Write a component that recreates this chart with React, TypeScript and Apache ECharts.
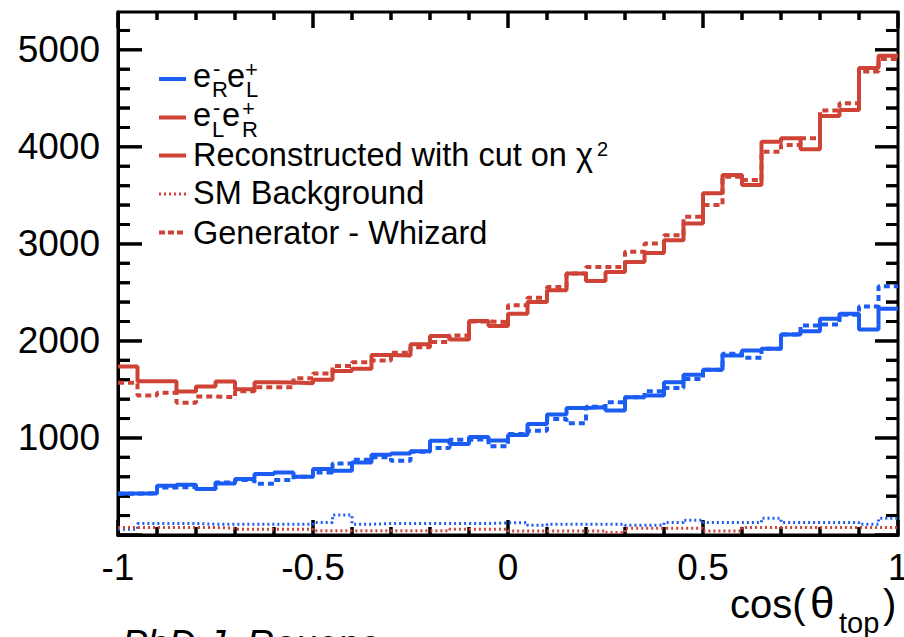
import React, { useEffect, useRef } from "react";
import * as echarts from "echarts";

const FONT = '"Liberation Sans", Arial, Helvetica, sans-serif';
const BLUE = "#1b5cf2";
const RED = "#cf4236";

const X_MIN = -1;
const X_MAX = 1;
const BIN_WIDTH = 0.05;
const Y_MAX = 5390;

const GRID = { left: 118, right: 6, top: 12, bottom: 102 };
const W = 904;
const H = 637;

// tick positions
const xMajorTicks = [-1, -0.5, 0, 0.5, 1];
const xMinorTicks = [-0.9, -0.8, -0.7, -0.6, -0.4, -0.3, -0.2, -0.1, 0.1, 0.2, 0.3, 0.4, 0.6, 0.7, 0.8, 0.9];
const yMajorTicks = [0, 1000, 2000, 3000, 4000, 5000];
const yMinorTicks = [
  200, 400, 600, 800, 1200, 1400, 1600, 1800, 2200, 2400, 2600, 2800,
  3200, 3400, 3600, 3800, 4200, 4400, 4600, 4800, 5200,
];

// e-_R e+_L : reconstructed with cut on chi2 (solid)
const blueReco = [
  428, 428, 507, 518, 473, 531, 576, 628, 645, 600,
  680, 662, 748, 827, 841, 862, 972, 938, 1010, 975,
  1030, 1144, 1241, 1310, 1316, 1282, 1420, 1437, 1575, 1651,
  1702, 1850, 1902, 1919, 2067, 2101, 2229, 2281, 2119, 2333,
];
// e-_R e+_L : generator - Whizard (dashed)
const blueGen = [
  425, 432, 490, 495, 475, 541, 566, 528, 566, 600,
  645, 738, 776, 800, 766, 858, 896, 982, 985, 915,
  1040, 1075, 1196, 1151, 1323, 1368, 1420, 1481, 1516, 1609,
  1702, 1867, 1826, 1919, 2067, 2160, 2170, 2270, 2356, 2563,
];
// e-_R e+_L : SM background (dotted)
const blueBg = [
  60, 118, 118, 118, 111, 111, 111, 111, 111, 111,
  128, 205, 111, 118, 118, 118, 118, 118, 118, 125,
  128, 101, 111, 111, 111, 111, 100, 100, 128, 153,
  128, 128, 128, 173, 128, 128, 128, 128, 110, 173,
];
// e-_L e+_R : reconstructed with cut on chi2 (solid)
const redReco = [
  1737, 1585, 1585, 1478, 1530, 1582, 1502, 1574, 1571, 1565,
  1599, 1690, 1713, 1855, 1850, 1965, 2052, 2015, 2205, 2153,
  2281, 2401, 2522, 2694, 2618, 2711, 2814, 2907, 3038, 3210,
  3521, 3710, 3606, 4054, 4089, 3975, 4319, 4381, 4812, 4939,
];
// e-_L e+_R : generator - Whizard (dashed)
const redGen = [
  1568, 1437, 1465, 1362, 1427, 1420, 1481, 1523, 1523, 1615,
  1665, 1742, 1781, 1798, 1878, 1936, 1988, 2057, 2201, 2194,
  2367, 2446, 2556, 2694, 2762, 2762, 2918, 3004, 3090, 3279,
  3400, 3692, 3658, 3950, 4020, 4089, 4374, 4450, 4777, 4905,
];
// e-_L e+_R : SM background (dotted)
const redBg = [
  77, 77, 77, 77, 77, 70, 60, 60, 60, 60,
  43, 43, 43, 45, 45, 45, 45, 60, 60, 60,
  42, 42, 42, 42, 42, 25, 70, 70, 70, 70,
  42, 42, 77, 77, 77, 77, 77, 77, 77, 77,
];

function steps(values: number[]): [number, number][] {
  const pts: [number, number][] = values.map((v, i) => [X_MIN + i * BIN_WIDTH, v]);
  pts.push([X_MIN + values.length * BIN_WIDTH, values[values.length - 1]]);
  return pts;
}

function txt(text: string, x: number, baseline: number, size: number, italic = false) {
  return {
    type: "text",
    x,
    y: baseline - 0.33 * size,
    style: {
      text,
      fill: "#000",
      font: `${italic ? "italic " : ""}${size}px ${FONT}`,
      align: "left",
      verticalAlign: "middle",
      textAlign: "left",
      textVerticalAlign: "middle",
    },
  };
}

function legendLine(y: number, color: string, dash: number[] | null, width: number) {
  const style: any = { stroke: color, lineWidth: width };
  if (dash) style.lineDash = dash;
  return { type: "line", shape: { x1: 159, y1: y, x2: 186, y2: y }, style };
}

function lineSeries(name: string, values: number[], color: string, type: any, width: number) {
  return {
    name,
    type: "line",
    step: "end",
    data: steps(values),
    symbol: "none",
    showSymbol: false,
    lineStyle: { color, width, type },
  };
}

const staticGraphic: any[] = [
  legendLine(79, BLUE, null, 4),
  txt("e", 193, 86.5, 32.5),
  txt("R", 212, 97, 22),
  txt("-", 213, 76, 22),
  txt("e", 227, 86.5, 32.5),
  txt("L", 246, 97, 22),
  txt("+", 245, 77, 22),

  legendLine(117.5, RED, null, 4),
  txt("e", 193, 126, 32.5),
  txt("L", 212, 137, 22),
  txt("-", 213, 115, 22),
  txt("e", 222, 126, 32.5),
  txt("R", 242, 137, 22),
  txt("+", 242, 116, 22),

  legendLine(155.5, RED, null, 4),
  txt("Reconstructed with cut on \u03c7", 193, 165.5, 32.5),
  txt("2", 597, 156, 20),

  legendLine(194, RED, [2, 3], 3),
  txt("SM Background", 193, 204, 32.5),

  legendLine(232.5, RED, [6, 3], 4),
  txt("Generator - Whizard", 193, 244, 32.5),

  txt("cos(", 730, 617, 40),
  txt("\u03b8", 810, 617, 44),
  txt("top", 839, 633, 29),
  txt(")", 883, 617, 40),

  txt("PhD J. Rouene", 122, 657, 38, true),
];

export default function App() {
  const ref = useRef<HTMLDivElement>(null);
  useEffect(() => {
    document.body.style.margin = "0";
    if (!ref.current) return;
    const chart = echarts.init(ref.current, null, { renderer: "svg" });
    chart.setOption({
      animation: false,
      grid: {
        ...GRID,
        outerBoundsMode: "none",
        show: true,
        borderColor: "#000",
        borderWidth: 3,
      },
      xAxis: {
        type: "value",
        min: X_MIN,
        max: X_MAX,
        interval: 0.5,
        axisLine: { show: true, onZero: false, lineStyle: { color: "#000", width: 3 } },
        axisTick: { show: false },
        minorTick: { show: false },
        splitLine: { show: false },
        axisLabel: { fontSize: 37, fontFamily: FONT, color: "#000", margin: 14, formatter: (v: number) => String(v) },
      },
      yAxis: {
        type: "value",
        min: 0,
        max: Y_MAX,
        interval: 1000,
        axisLine: { show: true, onZero: false, lineStyle: { color: "#000", width: 3 } },
        axisTick: { show: false },
        minorTick: { show: false },
        splitLine: { show: false },
        axisLabel: {
          fontSize: 37,
          fontFamily: FONT,
          color: "#000",
          margin: 18,
          showMinLabel: false,
          showMaxLabel: false,
          formatter: (v: number) => String(v),
        },
      },
      series: [
        lineSeries("SM Background e-R e+L", blueBg, BLUE, [2, 3], 3),
        lineSeries("SM Background e-L e+R", redBg, RED, [2, 3], 3),
        lineSeries("Generator - Whizard e-R e+L", blueGen, BLUE, [6, 4], 4),
        lineSeries("Generator - Whizard e-L e+R", redGen, RED, [6, 4], 4),
        lineSeries("Reconstructed e-R e+L", blueReco, BLUE, "solid", 4),
        lineSeries("Reconstructed e-L e+R", redReco, RED, "solid", 4),
      ],
    });

    // pixel positions through the chart's own scales (linear fallback from the grid if unavailable)
    const pw = W - GRID.left - GRID.right;
    const ph = H - GRID.top - GRID.bottom;
    const px = (x: number, y: number): number[] => {
      let p: any = null;
      try {
        p = chart.convertToPixel({ xAxisIndex: 0, yAxisIndex: 0 }, [x, y]);
      } catch (e) {
        p = null;
      }
      if (p && isFinite(p[0]) && isFinite(p[1])) return [p[0], p[1]];
      return [GRID.left + ((x - X_MIN) / (X_MAX - X_MIN)) * pw, GRID.top + (1 - y / Y_MAX) * ph];
    };

    // each tick as a filled 3px-wide rectangle
    const rects: { x: number; y: number; w: number; h: number }[] = [];
    const addX = (list: number[], lb: number, lt: number) => {
      list.forEach((v) => {
        const b = px(v, 0);
        const t = px(v, Y_MAX);
        rects.push({ x: b[0] - 1.5, y: b[1] - lb, w: 3, h: lb });
        rects.push({ x: t[0] - 1.5, y: t[1], w: 3, h: lt });
      });
    };
    const addY = (list: number[], ll: number, lr: number) => {
      list.forEach((v) => {
        const l = px(X_MIN, v);
        const r = px(X_MAX, v);
        rects.push({ x: l[0], y: l[1] - 1.5, w: ll, h: 3 });
        rects.push({ x: r[0] - lr, y: r[1] - 1.5, w: lr, h: 3 });
      });
    };
    addX(xMajorTicks, 15, 16);
    addX(xMinorTicks, 8, 8);
    addY(yMajorTicks, 24, 23);
    addY(yMinorTicks, 12, 12);

    const tickElements: any[] = rects.map((r) => ({
      type: "rect",
      shape: { x: r.x, y: r.y, width: r.w, height: r.h },
      style: { fill: "#000" },
    }));

    // the same ticks once more as a single registered path (same geometry, drawn on top)
    let d = "";
    rects.forEach((r) => {
      const x2 = r.x + r.w;
      const y2 = r.y + r.h;
      d += `M${r.x.toFixed(2)} ${r.y.toFixed(2)}L${x2.toFixed(2)} ${r.y.toFixed(2)}L${x2.toFixed(2)} ${y2.toFixed(2)}L${r.x.toFixed(2)} ${y2.toFixed(2)}Z`;
    });
    const extra: any[] = [];
    try {
      (echarts as any).graphic.registerShape("axisTicks", (echarts as any).graphic.extendPath(d, {}));
      extra.push({ type: "axisTicks", x: 0, y: 0, scaleX: 1, scaleY: 1, style: { fill: "#000" } });
    } catch (e) {
      // ignore: the rect elements already draw the ticks
    }

    chart.setOption({ graphic: [...staticGraphic, ...tickElements, ...extra] });
    return () => chart.dispose();
  }, []);
  return <div ref={ref} style={{ width: W, height: H }} />;
}
